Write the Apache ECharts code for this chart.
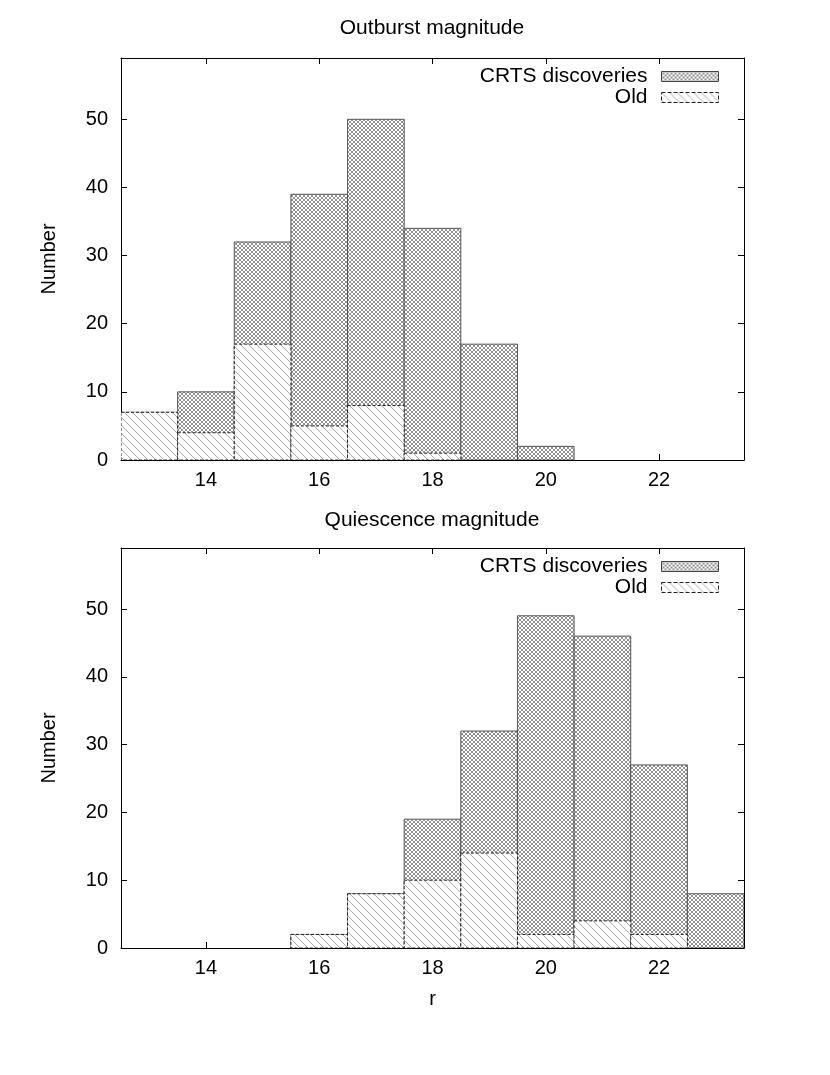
<!DOCTYPE html>
<html>
<head>
<meta charset="utf-8">
<script src="https://cdn.jsdelivr.net/npm/echarts@6/dist/echarts.min.js"></script>
<style>
  html, body { margin: 0; padding: 0; background: #fff; }
  #chart { width: 830px; height: 1075px; }
</style>
</head>
<body>
<div id="chart"></div>
<script>
// bin centres (magnitude r), bins are 1 mag wide
const outburstBins = [13, 14, 15, 16, 17, 18, 19, 20];
const outburstCrts = [7, 10, 32, 39, 50, 34, 17, 2];
const outburstOld = [7, 4, 17, 5, 8, 1, 0, 0];

const quiescBins = [16, 17, 18, 19, 20, 21, 22, 23];
const quiescCrts = [2, 8, 19, 32, 49, 46, 27, 8];
const quiescOld = [2, 8, 10, 14, 2, 4, 2, 0];

const xTicks = [14, 16, 18, 20, 22];

const FONT = "'Liberation Sans', Arial, sans-serif";
const FS = 20;

function makeTile(size, draw) {
  const c = document.createElement("canvas");
  c.width = size;
  c.height = size;
  const g = c.getContext("2d");
  draw(g, size);
  return c;
}

function diag(g, s, back) {
  g.beginPath();
  if (back) {
    g.moveTo(-1, -1); g.lineTo(s + 1, s + 1);
    g.moveTo(s - 1, -1); g.lineTo(s + 1, 1);
    g.moveTo(-1, s - 1); g.lineTo(1, s + 1);
  } else {
    g.moveTo(-1, s + 1); g.lineTo(s + 1, -1);
    g.moveTo(-1, 1); g.lineTo(1, -1);
    g.moveTo(s - 1, s + 1); g.lineTo(s + 1, s - 1);
  }
  g.stroke();
}

const crossTile = makeTile(4, (g, s) => {
  g.fillStyle = "#ffffff";
  g.fillRect(0, 0, s, s);
  g.strokeStyle = "#6e6e6e";
  g.lineWidth = 0.75;
  diag(g, s, true);
  diag(g, s, false);
});

const hatchTile = makeTile(8, (g, s) => {
  g.fillStyle = "#ffffff";
  g.fillRect(0, 0, s, s);
  g.strokeStyle = "#8f8f8f";
  g.lineWidth = 0.75;
  diag(g, s, true);
});

const crossFill = { image: crossTile, repeat: "repeat" };
const hatchFill = { image: hatchTile, repeat: "repeat" };

function pairs(bins, vals) {
  return bins.map((b, i) => [b, vals[i]]);
}

function histSeries(name, gridIdx, data, fill, dashed) {
  return {
    type: "custom",
    name: name,
    xAxisIndex: gridIdx * 2,
    yAxisIndex: gridIdx * 2,
    clip: true,
    itemStyle: { color: fill, borderColor: "#333", borderWidth: 1, borderType: dashed ? "dashed" : "solid" },
    data: data,
    renderItem: function (params, api) {
      const x = api.value(0);
      const y = api.value(1);
      if (!y) return null;
      const p0 = api.coord([x - 0.5, y]);
      const p1 = api.coord([x + 0.5, 0]);
      return {
        type: "rect",
        shape: { x: p0[0], y: p0[1], width: p1[0] - p0[0], height: p1[1] - p0[1] },
        style: {
          fill: fill,
          stroke: dashed ? "#222" : "#555",
          lineWidth: 1,
          lineDash: dashed ? [3, 2] : null
        }
      };
    }
  };
}

const grids = [
  { left: 121, right: 86, top: 58, height: 402 },
  { left: 121, right: 86, top: 548, height: 400 }
];

const xAxes = [];
const yAxes = [];
grids.forEach((g, i) => {
  const base = {
    type: "value", min: 12.5, max: 23.5, gridIndex: i,
    axisLine: { show: true, onZero: false, lineStyle: { color: "#000", width: 1 } },
    axisTick: { show: true, inside: true, length: 6, lineStyle: { color: "#000" },
      customValues: xTicks },
    axisLabel: { show: false },
    splitLine: { show: false }
  };
  xAxes.push(Object.assign({}, base, {
    position: "bottom",
    axisLabel: { show: true, customValues: xTicks, color: "#000", fontSize: FS, fontFamily: FONT, margin: 10 },
    name: i === 1 ? "r" : "",
    nameLocation: "middle",
    nameGap: 41,
    nameTextStyle: { color: "#000", fontSize: FS, fontFamily: FONT }
  }));
  xAxes.push(Object.assign({}, base, { position: "top" }));
  const ybase = {
    type: "value", min: 0, max: 59, interval: 10, gridIndex: i,
    axisLine: { show: true, onZero: false, lineStyle: { color: "#000", width: 1 } },
    axisTick: { show: true, inside: true, length: 6, lineStyle: { color: "#000" } },
    splitLine: { show: false }
  };
  yAxes.push(Object.assign({}, ybase, {
    position: "left",
    axisLabel: { show: true, color: "#000", fontSize: FS, fontFamily: FONT, margin: 13,
      formatter: v => (v % 10 === 0 && v <= 50 ? String(v) : "") },
    name: "Number",
    nameLocation: "middle",
    nameGap: 62,
    nameTextStyle: { color: "#000", fontSize: FS, fontFamily: FONT }
  }));
  yAxes.push(Object.assign({}, ybase, { position: "right", axisLabel: { show: false } }));
});

const legendItems = [
  { name: "CRTS discoveries", icon: "rect", itemStyle: { color: crossFill, borderColor: "#444", borderWidth: 1 } },
  { name: "Old", icon: "rect", itemStyle: { color: hatchFill, borderColor: "#222", borderWidth: 1, borderType: "dashed" } }
];

const legendBase = {
  orient: "vertical",
  align: "right",
  right: 106,
  itemWidth: 57,
  itemHeight: 10,
  itemGap: 0,
  textStyle: { color: "#000", fontSize: 21, lineHeight: 21, fontFamily: FONT, padding: [0, 9, 0, 0] },
  selectedMode: false,
  data: legendItems
};

const chart = echarts.init(document.getElementById("chart"));
chart.setOption({
  backgroundColor: "#fff",
  animation: false,
  title: [
    { text: "Outburst magnitude", left: 427, textAlign: "center", top: 13,
      textStyle: { fontSize: 21, fontWeight: "normal", color: "#000", fontFamily: FONT } },
    { text: "Quiescence magnitude", left: 427, textAlign: "center", top: 505,
      textStyle: { fontSize: 21, fontWeight: "normal", color: "#000", fontFamily: FONT } }
  ],
  legend: [
    Object.assign({}, legendBase, { top: 61 }),
    Object.assign({}, legendBase, { top: 551 })
  ],
  grid: grids,
  xAxis: xAxes,
  yAxis: yAxes,
  series: [
    histSeries("CRTS discoveries", 0, pairs(outburstBins, outburstCrts), crossFill, false),
    histSeries("Old", 0, pairs(outburstBins, outburstOld), hatchFill, true),
    histSeries("CRTS discoveries", 1, pairs(quiescBins, quiescCrts), crossFill, false),
    histSeries("Old", 1, pairs(quiescBins, quiescOld), hatchFill, true)
  ]
});
</script>
</body>
</html>
